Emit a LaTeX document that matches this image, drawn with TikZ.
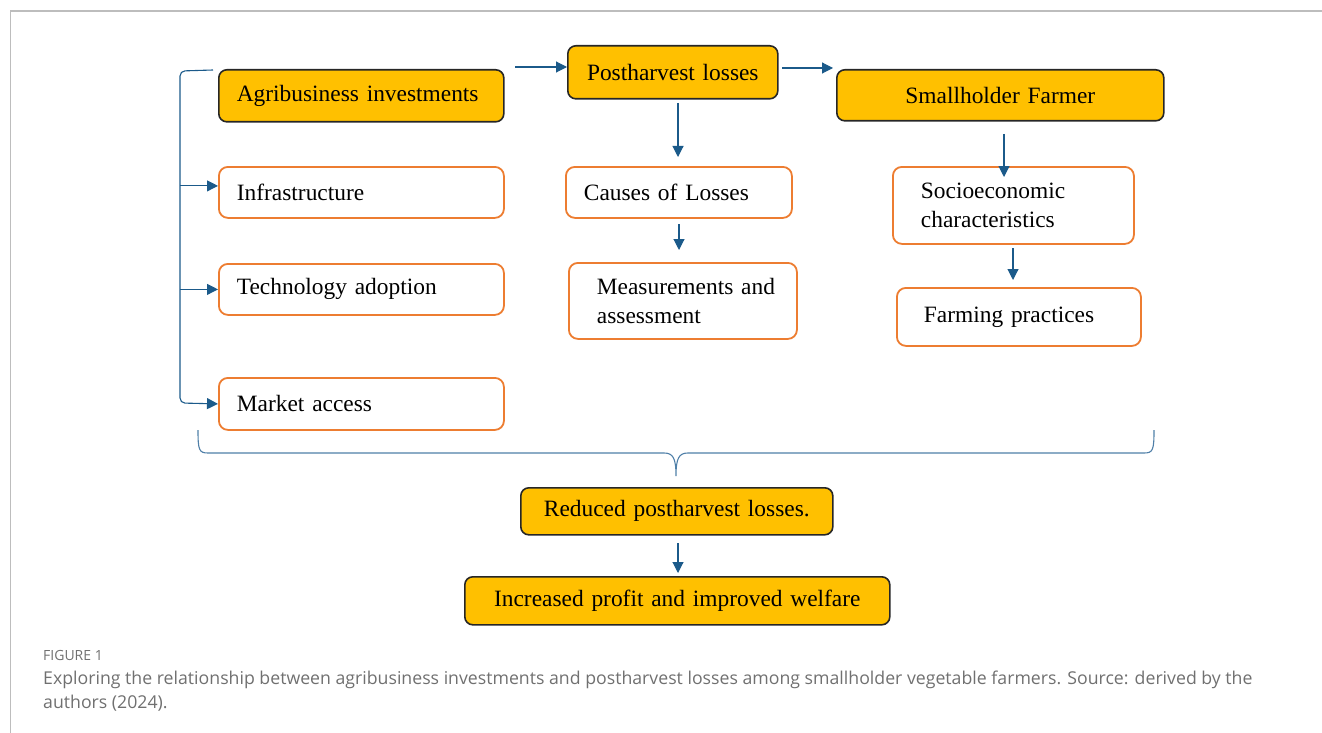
\documentclass[tikz,border=0pt]{standalone}
\usepackage{fontspec}
\setmainfont{Liberation Serif}
\newfontfamily\capfont{Open Sans}
\usepackage{tikz}
\usetikzlibrary{arrows.meta, calc, positioning}
\definecolor{gold}{HTML}{FFC000}
\definecolor{orangeline}{HTML}{ED7D31}
\definecolor{arrowblue}{HTML}{1B5A8A}
\definecolor{bracegray}{HTML}{4F7FA8}
\definecolor{capgray}{HTML}{707070}
\definecolor{framegray}{HTML}{BDBDBD}
\tikzset{
	x=1pt, y=-1pt,
	arr/.style = {-{Triangle[length=11pt, width=11pt]}, arrowblue, line width=1.1pt},
	box/.style = {rectangle, anchor=north west, inner ysep=0pt, align=left,
		font=\fontsize{23.4}{28.5}\selectfont},
	mainbox/.style = {box, fill=gold, draw=black!85, line width=1.6pt, rounded corners=8pt},
	subbox/.style = {box, fill=white, draw=orangeline, line width=1.8pt, rounded corners=9pt},
	captext/.style = {anchor=base west, inner sep=0pt, align=left, text=capgray}
}
\begin{document}
\begin{tikzpicture}
		\useasboundingbox (0,0) rectangle (1322,733);
		\draw[framegray, line width=2pt] (10,11) -- (1322,11);
		\draw[framegray, line width=1pt] (10,11) -- (10,733);
		
		% Top row
		\node[mainbox, minimum width=285pt, minimum height=52pt, text width=249pt, inner xsep=18pt] (agri) at (218,69) {Agribusiness investments};
		\node[mainbox, minimum width=210pt, minimum height=53pt, text width=190pt, inner xsep=10pt, align=center] (post) at (567,45) {Postharvest losses};
		\node[mainbox, minimum width=327pt, minimum height=51pt, text width=307pt, inner xsep=10pt, align=center] (small) at (836,69) {Smallholder Farmer};
		
		% Investment areas
		\node[subbox, minimum width=285pt, minimum height=51pt, text width=249pt, inner xsep=18pt] (infra) at (218,166) {Infrastructure};
		\node[subbox, minimum width=285pt, minimum height=51pt, text width=249pt, inner xsep=18pt] (tech) at (218,263) {Technology adoption};
		\node[subbox, minimum width=285pt, minimum height=52pt, text width=249pt, inner xsep=18pt] (market) at (218,377) {Market access};
		
		% Losses and farmers
		\node[subbox, minimum width=226pt, minimum height=51pt, text width=190pt, inner xsep=18pt] (causes) at (565,166) {Causes of Losses};
		\node[subbox, minimum width=228pt, minimum height=76pt, text width=172pt, inner xsep=28pt] (meas) at (568,262) {Measurements~and\\assessment};
		\node[subbox, minimum width=241pt, minimum height=77pt, text width=185pt, inner xsep=28pt] (socio) at (892,166) {Socioeconomic\\characteristics};
		\node[subbox, minimum width=244pt, minimum height=58pt, text width=190pt, inner xsep=27pt] (farm) at (896,287) {Farming practices};
		
		% Outcomes
		\node[mainbox, minimum width=312pt, minimum height=47pt, text width=292pt, inner xsep=10pt, align=center] (reduced) at (520,487) {Reduced postharvest losses.};
		\node[mainbox, minimum width=425pt, minimum height=48pt, text width=405pt, inner xsep=10pt, align=center] (welfare) at (464,576) {Increased profit and improved welfare};
		
		% Arrow start points
		\coordinate (a1) at (515,67);
		\coordinate (a2) at (782,68);
		\coordinate (a3) at (678,103);
		\coordinate (a4) at (679,224);
		\coordinate (a5) at (1004,134);
		\coordinate (a6) at (1013,248);
		\coordinate (a7) at (678,543);
		\coordinate (b0) at (213,70);
		
		% Directed edges
		\draw[arr] (a1) -- (a1 -| post.west);
		\draw[arr, shorten >=3pt] (a2) -- (a2 -| small.west);
		\draw[arr, shorten >=9pt] (a3) -- (a3 |- causes.north);
		\draw[arr, shorten >=12pt] (a4) -- (a4 |- meas.north);
		\draw[arr, shorten >=-11pt] (a5) -- (a5 |- socio.north);
		\draw[arr, shorten >=7pt] (a6) -- (a6 |- farm.north);
		\draw[arr, shorten >=3pt] (a7) -- (a7 |- welfare.north);
		
		% Left bracket
		\draw[arr, rounded corners=5pt] (b0) -- (180,71) -- (180,403) -- (market.west);
		\draw[arr] ([yshift=6.5pt]infra.west -| 180,0) -- ([yshift=6.5pt]infra.west);
		\draw[arr] (tech.west -| 180,0) -- (tech.west);
		
		% Bottom brace
		\draw[bracegray, line width=1.1pt] (198,430) .. controls (198,450) and (199,453) .. (208,453) -- (664,453)
			.. controls (673,453) and (676,458) .. (676,476) .. controls (676,458) and (679,453) .. (688,453)
			-- (1144,453) .. controls (1153,453) and (1154,450) .. (1154,430);
		
		% Caption
		\node[captext, font=\capfont\fontsize{14}{17}\selectfont] (fignum) at (43,660) {FIGURE 1};
		\node[captext, font=\capfont\fontsize{17.7}{24}\selectfont] (caption) at (43,708) {Exploring the relationship between agribusiness investments and postharvest losses among smallholder vegetable farmers. Source: derived by the\\authors (2024).};
\end{tikzpicture}
\end{document}
